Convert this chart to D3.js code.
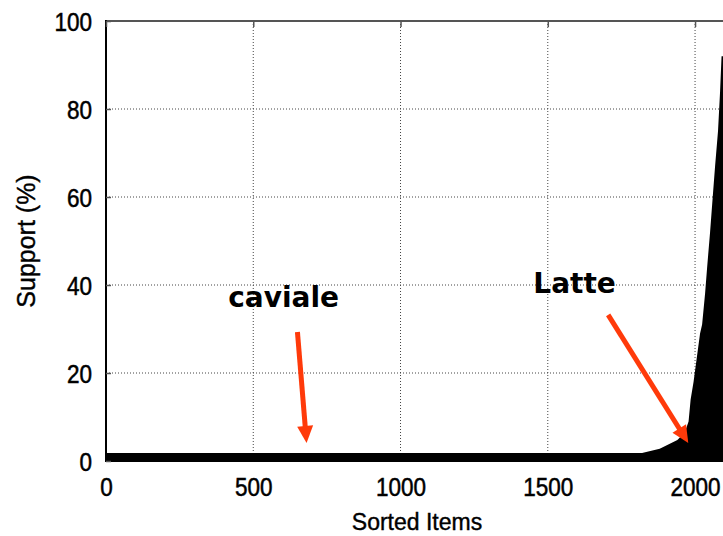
<!DOCTYPE html>
<html>
<head>
<meta charset="utf-8">
<title>Support of sorted items</title>
<script src="https://cdn.jsdelivr.net/npm/d3@7"></script>
<style>
  body { margin: 0; background: #fff; }
  svg { display: block; }
</style>
</head>
<body>
<svg width="723" height="536"></svg>
<script>
// sorted items (x) and their support in % (y)
var items   = [0, 1820, 1880, 1940, 1965, 1978, 1985, 1995, 2005, 2017, 2024, 2034, 2041, 2051, 2060, 2068, 2078, 2085, 2090, 2100];
var support = [1.8, 1.8, 2.8, 4.8, 6.5, 9, 14, 18, 23, 29, 31, 38, 44, 52, 60, 67, 75, 84, 92, 92];

var xTicks = [0, 500, 1000, 1500, 2000];
var yTicks = [0, 20, 40, 60, 80, 100];

// annotations : text, text position, arrow start, arrow tip (data units)
var notes      = ["caviale", "Latte"];
var notePos    = [[415, 35], [1451, 38.2]];
var arrowFrom  = [[650, 29.3], [1705, 33.2]];
var arrowTo    = [[681, 4.1], [1977, 4.1]];

var svg = d3.select("svg");
var police = "'Liberation Sans', Arial, sans-serif";

var x = d3.scaleLinear().domain([0, 2100]).range([106, 724.5]);
var y = d3.scaleLinear().domain([0, 100]).range([461, 21]);

var points = items.map(function (d, i) { return [d, support[i]]; });

// grille pointillée
svg.append("g")
  .selectAll("line")
  .data(yTicks.filter(function (d) { return d > 0 && d < 100; }))
  .enter().append("line")
    .attr("x1", 106).attr("x2", 723)
    .attr("y1", function (d) { return y(d); })
    .attr("y2", function (d) { return y(d); })
    .attr("stroke", "#444").attr("stroke-width", 1)
    .attr("stroke-dasharray", "1,2");

svg.append("g")
  .selectAll("line")
  .data(xTicks.filter(function (d) { return d > 0; }))
  .enter().append("line")
    .attr("x1", function (d) { return x(d); })
    .attr("x2", function (d) { return x(d); })
    .attr("y1", 21).attr("y2", 461)
    .attr("stroke", "#444").attr("stroke-width", 1)
    .attr("stroke-dasharray", "1,2");

// la surface
var surface = d3.area()
  .x(function (d) { return x(d[0]); })
  .y0(y(0))
  .y1(function (d) { return y(d[1]); });

svg.append("path")
  .attr("d", surface(points))
  .attr("fill", "#000");

// cadre
svg.append("line")
  .attr("x1", 106).attr("x2", 723).attr("y1", 21).attr("y2", 21)
  .attr("stroke", "#555").attr("stroke-width", 2);
svg.append("line")
  .attr("x1", 106).attr("x2", 106).attr("y1", 20).attr("y2", 462)
  .attr("stroke", "#000").attr("stroke-width", 2);
svg.append("line")
  .attr("x1", 105).attr("x2", 723).attr("y1", 461).attr("y2", 461)
  .attr("stroke", "#000").attr("stroke-width", 2);

// petites graduations intérieures
svg.append("g").attr("transform", "translate(0,21)")
  .call(d3.axisBottom(x).tickValues(xTicks).tickSize(6).tickFormat(""))
  .call(function (g) { g.select(".domain").remove(); })
  .selectAll("line").attr("stroke", "#555").attr("stroke-width", 1.5);
svg.append("g").attr("transform", "translate(106,0)")
  .call(d3.axisRight(y).tickValues(yTicks).tickSize(5).tickFormat(""))
  .call(function (g) { g.select(".domain").remove(); })
  .selectAll("line").attr("stroke", "#555").attr("stroke-width", 1.5);

// axes
var axeX = svg.append("g")
  .attr("transform", "translate(0,461)")
  .call(d3.axisBottom(x).tickValues(xTicks).tickFormat(d3.format("d")).tickSize(0).tickPadding(0));
axeX.select(".domain").remove();
axeX.selectAll("text")
  .attr("y", 0).attr("dy", "35px")
  .attr("transform", "scale(0.9,1)")
  .attr("fill", "#000")
  .attr("stroke", "#000").attr("stroke-width", 0.5)
  .style("font-family", police)
  .style("font-size", "25px");

var axeY = svg.append("g")
  .attr("transform", "translate(106,0)")
  .call(d3.axisLeft(y).tickValues(yTicks).tickFormat(d3.format("d")).tickSize(0).tickPadding(0));
axeY.select(".domain").remove();
axeY.selectAll("text")
  .attr("x", -14 / 0.9).attr("dy", "0.36em")
  .attr("transform", "scale(0.9,1)")
  .attr("fill", "#000")
  .attr("stroke", "#000").attr("stroke-width", 0.5)
  .style("font-family", police)
  .style("font-size", "25px");

// titres
svg.append("text")
  .attr("x", 417).attr("y", 530)
  .attr("text-anchor", "middle")
  .attr("stroke", "#000").attr("stroke-width", 0.4)
  .style("font-family", police)
  .style("font-size", "23px")
  .text("Sorted Items");

svg.append("text")
  .attr("transform", "translate(35,241) rotate(-90)")
  .attr("text-anchor", "middle")
  .attr("stroke", "#000").attr("stroke-width", 0.4)
  .style("font-family", police)
  .style("font-size", "25px")
  .text("Support (%)");

// annotations
svg.selectAll("text.note")
  .data(notes)
  .enter().append("text")
    .attr("class", "note")
    .attr("x", function (d, i) { return x(notePos[i][0]); })
    .attr("y", function (d, i) { return y(notePos[i][1]); })
    .style("font-family", "'DejaVu Sans', Verdana, sans-serif")
    .style("font-weight", "bold")
    .style("font-size", "28px")
    .text(function (d) { return d; });

var rouge = "#ff3a0a";
notes.forEach(function (n, i) {
  var x0 = x(arrowFrom[i][0]), y0 = y(arrowFrom[i][1]);
  var x1 = x(arrowTo[i][0]), y1 = y(arrowTo[i][1]);
  var dx = x1 - x0, dy = y1 - y0, len = Math.sqrt(dx * dx + dy * dy);
  var ux = dx / len, uy = dy / len;
  var head = 17, half = 8;
  var bx = x1 - ux * head, by = y1 - uy * head;
  svg.append("line")
    .attr("x1", x0).attr("y1", y0)
    .attr("x2", bx + ux * 2).attr("y2", by + uy * 2)
    .attr("stroke", rouge).attr("stroke-width", 5);
  svg.append("path")
    .attr("d", "M" + x1 + "," + y1 +
               "L" + (bx - uy * half) + "," + (by + ux * half) +
               "L" + (bx + uy * half) + "," + (by - ux * half) + "Z")
    .attr("fill", rouge);
});
</script>
</body>
</html>
